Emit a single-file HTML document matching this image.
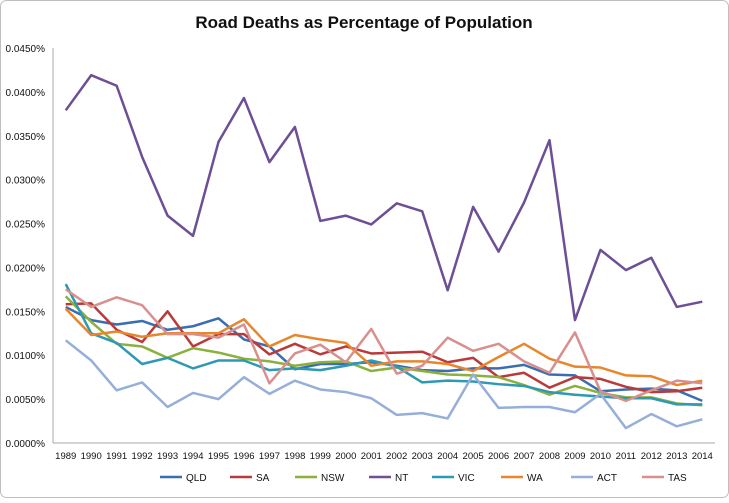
<!DOCTYPE html>
<html><head><meta charset="utf-8"><style>
body{margin:0;background:#fff;font-family:"Liberation Sans",sans-serif}
svg text{font-family:"Liberation Sans",sans-serif}
</style></head><body>
<svg id="c" width="729" height="498">
<rect x="0.5" y="0.5" width="728" height="497" rx="6" fill="#fff" stroke="#bfbfbf"/>
<text x="364" y="28" text-anchor="middle" font-size="17" font-weight="bold" fill="#111">Road Deaths as Percentage of Population</text>
<g id="g"></g>
</svg>
<script>
const years=[1989,1990,1991,1992,1993,1994,1995,1996,1997,1998,1999,2000,2001,2002,2003,2004,2005,2006,2007,2008,2009,2010,2011,2012,2013,2014];
const yTicks=[0,0.005,0.01,0.015,0.02,0.025,0.03,0.035,0.04,0.045];
const seriesNames=["QLD","SA","NSW","NT","VIC","WA","ACT","TAS"];
const seriesColors=["#3b6eb0","#b83a3a","#8bb03e","#6c4f95","#2f98b3","#e8862e","#96afd8","#d8908e"];
const QLD=[0.0155,0.0140,0.0135,0.0139,0.0129,0.0133,0.0142,0.0118,0.0110,0.0084,0.0090,0.0090,0.0092,0.0088,0.0083,0.0082,0.0085,0.0085,0.0089,0.0078,0.0077,0.0059,0.0061,0.0062,0.0060,0.0048];
const SA=[0.0158,0.0159,0.0129,0.0115,0.0150,0.0110,0.0124,0.0124,0.0101,0.0113,0.0101,0.0110,0.0102,0.0103,0.0104,0.0092,0.0097,0.0075,0.0080,0.0063,0.0075,0.0073,0.0064,0.0058,0.0059,0.0063];
const NSW=[0.0167,0.0138,0.0113,0.0110,0.0097,0.0108,0.0103,0.0096,0.0093,0.0088,0.0092,0.0093,0.0082,0.0086,0.0082,0.0078,0.0077,0.0075,0.0066,0.0055,0.0065,0.0057,0.0052,0.0052,0.0045,0.0043];
const NT=[0.0379,0.0419,0.0407,0.0326,0.0259,0.0236,0.0343,0.0393,0.0320,0.0360,0.0253,0.0259,0.0249,0.0273,0.0264,0.0174,0.0269,0.0218,0.0274,0.0345,0.0140,0.0220,0.0197,0.0211,0.0155,0.0161];
const VIC=[0.0181,0.0125,0.0114,0.0090,0.0097,0.0085,0.0094,0.0094,0.0083,0.0085,0.0083,0.0088,0.0094,0.0087,0.0069,0.0071,0.0070,0.0067,0.0065,0.0058,0.0055,0.0053,0.0051,0.0051,0.0044,0.0044];
const WA=[0.0153,0.0123,0.0127,0.0121,0.0125,0.0125,0.0125,0.0141,0.0110,0.0123,0.0118,0.0114,0.0088,0.0093,0.0093,0.0090,0.0082,0.0098,0.0113,0.0096,0.0087,0.0086,0.0077,0.0076,0.0066,0.0071];
const ACT=[0.0117,0.0094,0.0060,0.0069,0.0041,0.0057,0.0050,0.0075,0.0056,0.0071,0.0061,0.0058,0.0051,0.0032,0.0034,0.0028,0.0078,0.0040,0.0041,0.0041,0.0035,0.0056,0.0017,0.0033,0.0019,0.0027];
const TAS=[0.0175,0.0155,0.0166,0.0157,0.0124,0.0124,0.0120,0.0135,0.0068,0.0102,0.0112,0.0092,0.0130,0.0079,0.0088,0.0120,0.0105,0.0113,0.0093,0.0080,0.0126,0.0059,0.0048,0.0060,0.0071,0.0068];
const seriesData=[QLD,SA,NSW,NT,VIC,WA,ACT,TAS];
const NS="http://www.w3.org/2000/svg";
const g=document.getElementById('g');
const L=53,R=715,T=48,B=443;
const step=(R-L)/years.length;
const xs=i=>L+step*(i+0.5);
const ys=v=>B-(v/0.045)*(B-T);
function mk(t,a){const e=document.createElementNS(NS,t);for(const k in a)e.setAttribute(k,a[k]);g.appendChild(e);return e;}
let ax=mk('line',{x1:L,x2:L,y1:T,y2:B,stroke:'#aaa'});


let bx=mk('line',{x1:L,x2:R,y1:B,y2:B,stroke:'#aaa'});


yTicks.forEach(v=>{
 const t=mk('text',{x:L-8,y:ys(v)+4,'text-anchor':'end','font-size':10,fill:'#111'});
 t.textContent=v.toFixed(4)+'%';
 
 
});
years.forEach((yr,i)=>{
 const t=mk('text',{x:xs(i),y:B+16,'text-anchor':'middle','font-size':9.5,fill:'#111'});
 t.textContent=yr;
 
 
});
seriesData.forEach((d,s)=>{
 const p=mk('polyline',{points:d.map((v,i)=>xs(i)+','+ys(v)).join(' '),fill:'none',stroke:seriesColors[s],'stroke-width':2.5,'stroke-linejoin':'round'});
 
 
});
const legX=[186,256,321,395,458,527,597,668];
seriesNames.forEach((n,s)=>{
 const x=legX[s];
 const l=mk('line',{x1:x-26,x2:x-4,y1:477,y2:477,stroke:seriesColors[s],'stroke-width':2.5});
 
 
 const t=mk('text',{x:x,y:481,'font-size':10,fill:'#111'});
 t.textContent=n;
 
 
});
</script>
</body></html>
